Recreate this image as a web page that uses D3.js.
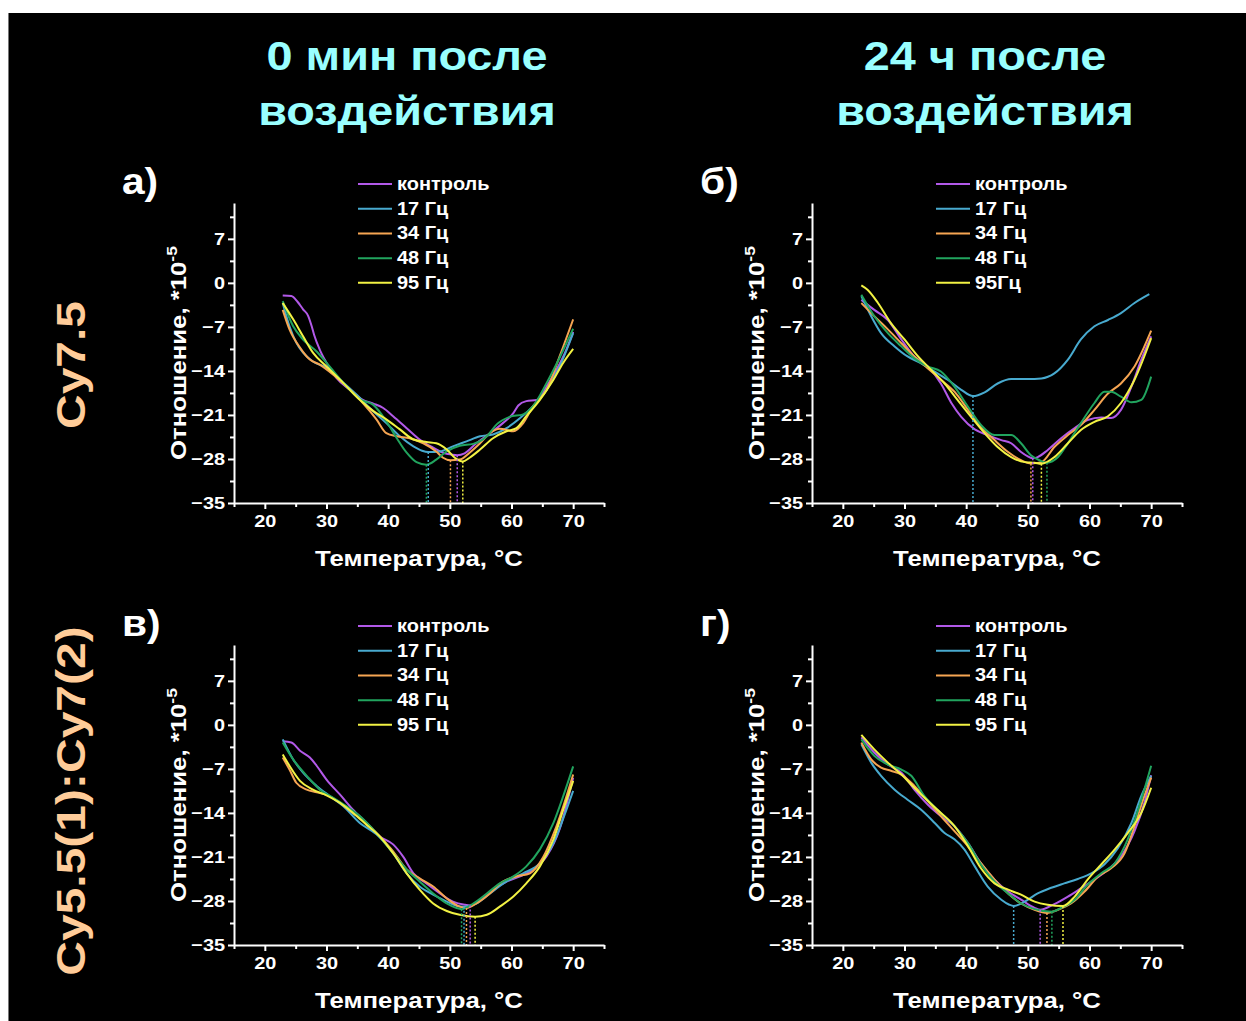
<!DOCTYPE html>
<html>
<head>
<meta charset="utf-8">
<script src="https://cdn.jsdelivr.net/npm/d3@7"></script>
<style>
  html, body { margin: 0; padding: 0; background: #ffffff; }
  svg { display: block; }
</style>
</head>
<body>
<svg id="fig" width="1246" height="1021"></svg>
<script>
// ---- shared categories / ticks ----
const seriesNames   = ["контроль", "17 Гц", "34 Гц", "48 Гц", "95 Гц"];
const seriesNamesB  = ["контроль", "17 Гц", "34 Гц", "48 Гц", "95Гц"];
const seriesColors  = ["#b259e8", "#48aacf", "#f6a552", "#21a45e", "#f2f243"];
const xTicks = [20, 30, 40, 50, 60, 70];
const xMinorTicks = [15, 25, 35, 45, 55, 65, 75];
const yTicks = [-35, -28, -21, -14, -7, 0, 7];
const yMinorTicks = [-31.5, -24.5, -17.5, -10.5, -3.5, 3.5, 10.5];
const panelLetters = ["а)", "б)", "в)", "г)"];
const columnTitles = [["0 мин после", "воздействия"], ["24 ч после", "воздействия"]];
const rowTitles = ["Cy7.5", "Cy5.5(1):Cy7(2)"];

// ---- panel а: Cy7.5, 0 min  [temperature °C, ratio ×10^-5] ----
const a_control = [[22.9,-2.0],[24.3,-2.1],[25.3,-3.0],[26.2,-4.2],[27.0,-5.2],[27.6,-6.9],[28.0,-8.3],[28.9,-10.6],[30.0,-12.7],[31.6,-15.1],[33.8,-17.0],[35.9,-18.6],[37.6,-19.2],[39.2,-19.9],[40.8,-21.2],[43.0,-23.1],[45.1,-24.9],[47.3,-26.2],[48.9,-27.0],[50.3,-27.3],[51.2,-27.4],[52.4,-27.1],[54.3,-25.5],[56.5,-23.9],[58.6,-22.3],[60.3,-20.7],[61.1,-19.5],[62.4,-18.8],[64.1,-18.6],[65.7,-16.4],[67.3,-13.8],[68.9,-10.6],[70.0,-7.8]];
const a_17 = [[22.9,-3.2],[24.0,-6.9],[25.1,-9.5],[26.2,-11.1],[27.8,-12.5],[30.0,-13.5],[32.2,-15.4],[34.9,-17.8],[37.0,-19.9],[39.7,-22.3],[41.9,-24.4],[44.1,-26.0],[45.5,-26.7],[46.5,-26.9],[48.4,-26.8],[50.5,-26.0],[52.7,-25.2],[54.9,-24.4],[57.0,-24.1],[59.2,-23.1],[61.4,-21.5],[63.5,-19.6],[65.7,-17.0],[67.8,-13.3],[70.0,-8.0]];
const a_34 = [[22.9,-4.3],[24.0,-7.4],[25.7,-10.3],[27.3,-12.2],[28.9,-13.0],[31.1,-14.6],[33.8,-17.0],[35.9,-19.1],[38.1,-21.7],[39.7,-23.9],[41.4,-24.4],[43.5,-24.7],[45.7,-25.5],[47.8,-26.8],[48.9,-27.8],[50.1,-28.2],[51.6,-28.1],[53.2,-27.0],[54.9,-25.5],[56.5,-23.9],[58.1,-23.2],[60.3,-23.6],[61.9,-22.3],[63.5,-19.6],[65.7,-17.0],[67.8,-11.7],[70.0,-5.8]];
const a_48 = [[22.9,-2.9],[24.6,-6.9],[26.2,-9.0],[28.4,-10.9],[30.5,-13.3],[33.2,-16.4],[35.4,-18.5],[37.6,-19.4],[39.7,-22.0],[41.4,-24.7],[43.0,-27.0],[44.6,-28.5],[46.2,-28.9],[47.8,-28.1],[49.5,-26.8],[51.6,-25.9],[53.8,-25.6],[56.0,-24.4],[57.6,-22.5],[59.7,-21.3],[61.9,-20.9],[63.5,-19.6],[65.7,-15.9],[67.8,-11.9],[70.0,-7.3]];
const a_95 = [[22.9,-3.2],[24.6,-5.8],[26.2,-8.5],[27.8,-11.1],[30.0,-13.3],[32.7,-15.9],[35.4,-18.6],[37.6,-20.4],[39.7,-21.7],[41.9,-23.3],[44.1,-24.9],[46.2,-25.3],[47.8,-25.5],[49.5,-26.5],[50.8,-27.8],[52.1,-28.4],[53.2,-27.8],[54.9,-26.5],[57.0,-24.7],[59.2,-23.6],[60.8,-23.1],[62.4,-21.2],[64.6,-18.6],[66.8,-15.4],[68.4,-12.7],[70.0,-10.5]];

// ---- panel б: Cy7.5, 24 h ----
const b_control = [[23.0,-2.7],[25.1,-4.3],[27.3,-5.9],[29.5,-9.0],[31.6,-11.7],[33.8,-13.3],[35.9,-16.0],[37.6,-19.1],[39.2,-21.3],[41.4,-23.3],[43.5,-24.2],[45.7,-25.0],[47.3,-25.5],[48.9,-26.9],[50.0,-27.6],[50.8,-27.9],[51.6,-27.7],[53.2,-26.6],[55.4,-24.7],[57.6,-23.1],[59.7,-21.8],[61.9,-21.4],[63.5,-21.5],[65.1,-20.2],[66.8,-16.5],[68.4,-12.2],[70.0,-8.5]];
const b_17 = [[23.0,-2.1],[24.6,-5.3],[26.2,-8.0],[28.4,-10.1],[30.5,-11.7],[32.7,-12.8],[34.9,-14.1],[37.0,-15.4],[39.2,-17.0],[41.1,-18.0],[43.0,-17.4],[45.1,-16.0],[47.3,-15.3],[50.0,-15.3],[52.2,-15.2],[54.3,-14.4],[56.5,-12.2],[58.6,-9.0],[60.8,-6.9],[63.0,-5.9],[65.1,-4.8],[67.3,-3.2],[69.7,-1.8]];
const b_34 = [[23.0,-3.2],[25.1,-5.3],[27.3,-7.4],[29.5,-9.6],[31.6,-11.7],[33.8,-13.6],[35.9,-15.4],[38.1,-17.3],[40.3,-20.2],[42.4,-22.9],[44.6,-25.0],[46.8,-26.9],[48.9,-28.2],[50.5,-28.7],[52.2,-28.5],[54.3,-26.1],[56.5,-24.2],[58.6,-22.6],[60.8,-20.2],[63.0,-17.6],[65.1,-16.0],[67.3,-13.3],[70.0,-7.6]];
const b_48 = [[23.0,-1.9],[25.1,-5.3],[27.3,-8.0],[29.5,-10.1],[31.6,-12.0],[33.8,-13.3],[35.9,-14.1],[38.1,-16.5],[40.3,-19.7],[42.4,-22.6],[44.6,-24.2],[47.3,-24.2],[48.9,-25.5],[50.5,-27.4],[51.9,-28.2],[53.1,-28.6],[54.9,-27.7],[56.5,-25.5],[58.6,-22.3],[60.8,-19.1],[62.4,-17.3],[63.5,-17.3],[65.1,-18.1],[66.8,-19.0],[68.4,-18.6],[70.0,-14.9]];
const b_95 = [[23.0,-0.4],[24.0,-1.1],[25.7,-3.2],[27.8,-6.4],[30.0,-9.0],[32.2,-11.7],[34.3,-13.8],[36.5,-16.0],[38.6,-18.6],[40.8,-21.3],[43.0,-23.9],[45.1,-26.1],[47.3,-27.7],[49.5,-28.5],[51.1,-28.6],[52.2,-28.75],[54.3,-27.7],[56.5,-25.5],[58.6,-23.4],[60.8,-22.1],[63.0,-21.2],[65.1,-19.1],[67.3,-15.4],[70.0,-8.8]];

// ---- panel в: Cy5.5(1):Cy7(2), 0 min ----
const c_control = [[22.9,-2.6],[24.3,-2.8],[25.7,-4.1],[27.3,-5.2],[28.4,-6.5],[30.0,-8.7],[32.2,-11.1],[34.3,-13.5],[36.5,-15.6],[38.6,-17.7],[40.8,-19.0],[42.4,-20.9],[44.1,-23.6],[46.2,-25.2],[48.4,-26.8],[50.5,-28.1],[52.4,-28.6],[53.3,-28.7],[54.9,-27.9],[57.0,-26.2],[59.2,-24.9],[61.4,-24.1],[63.5,-23.0],[65.7,-20.9],[67.8,-16.6],[70.0,-8.4]];
const c_17 = [[22.9,-2.3],[24.6,-5.5],[26.2,-7.6],[28.4,-9.7],[30.5,-11.3],[32.7,-12.9],[35.4,-15.6],[38.1,-17.4],[40.8,-20.4],[43.0,-23.6],[45.1,-25.7],[47.3,-27.0],[49.5,-28.1],[51.2,-28.8],[52.3,-28.9],[54.3,-28.4],[56.5,-26.8],[59.2,-24.9],[61.9,-23.6],[64.6,-22.0],[66.8,-18.8],[68.9,-13.5],[70.0,-10.5]];
const c_34 = [[22.9,-5.2],[24.0,-7.1],[25.1,-9.2],[26.8,-10.3],[28.4,-10.7],[30.0,-11.1],[32.2,-12.4],[34.3,-14.0],[36.5,-15.6],[38.6,-17.7],[40.8,-20.1],[43.0,-23.0],[45.1,-24.4],[47.3,-25.7],[49.5,-27.6],[51.6,-28.9],[52.7,-29.1],[54.3,-28.4],[56.5,-26.8],[58.6,-24.9],[60.8,-24.1],[63.0,-23.6],[65.1,-21.1],[67.3,-16.1],[70.0,-7.9]];
const c_48 = [[22.9,-2.8],[24.6,-5.5],[26.8,-8.1],[28.9,-10.3],[31.1,-11.6],[33.2,-12.9],[35.4,-14.5],[38.1,-17.2],[40.8,-20.4],[43.0,-23.0],[45.1,-24.9],[47.3,-26.8],[49.5,-28.4],[51.0,-29.1],[51.9,-29.3],[53.8,-28.4],[56.0,-26.8],[58.1,-25.2],[60.3,-24.1],[62.4,-22.5],[64.6,-19.8],[66.8,-15.6],[68.4,-11.3],[70.0,-6.6]];
const c_95 = [[22.9,-4.7],[24.0,-6.5],[25.7,-8.9],[27.8,-10.3],[30.0,-11.2],[32.2,-12.4],[34.3,-14.0],[36.5,-15.9],[38.6,-17.7],[40.8,-20.4],[43.0,-23.6],[45.1,-26.2],[47.3,-28.4],[49.5,-29.6],[51.6,-30.2],[54.1,-30.5],[56.0,-30.2],[58.1,-28.9],[60.3,-27.3],[62.4,-25.2],[64.6,-22.5],[66.8,-18.2],[68.4,-13.5],[70.0,-8.9]];

// ---- panel г: Cy5.5(1):Cy7(2), 24 h ----
const d_control = [[23.0,-2.0],[25.1,-4.4],[27.3,-6.3],[29.5,-7.6],[31.6,-10.3],[33.8,-12.7],[35.9,-14.5],[38.1,-16.1],[40.3,-18.8],[42.4,-22.0],[44.6,-24.6],[46.8,-26.5],[48.9,-27.8],[51.1,-29.1],[52.0,-29.4],[54.3,-28.5],[56.5,-27.3],[58.6,-26.0],[60.8,-24.6],[63.0,-23.0],[65.1,-20.9],[67.3,-16.9],[68.9,-12.4],[70.0,-8.0]];
const d_17 = [[23.0,-3.1],[24.6,-6.0],[26.2,-8.1],[28.4,-10.3],[30.5,-11.9],[32.7,-13.5],[34.9,-15.6],[36.5,-17.2],[38.1,-18.2],[39.7,-19.8],[41.4,-22.5],[43.5,-25.7],[45.7,-27.8],[47.0,-28.6],[47.7,-28.8],[49.5,-28.1],[51.6,-26.8],[53.8,-25.9],[55.9,-25.2],[58.1,-24.5],[60.3,-23.6],[62.4,-22.2],[64.6,-19.6],[66.8,-15.6],[68.4,-11.3],[70.0,-8.1]];
const d_34 = [[23.0,-2.8],[24.6,-5.5],[26.2,-6.8],[27.8,-7.3],[29.5,-7.9],[31.6,-9.7],[33.8,-12.1],[35.9,-14.5],[38.1,-16.9],[40.3,-19.3],[42.4,-22.0],[44.6,-24.6],[46.8,-26.8],[48.9,-28.4],[51.1,-29.4],[53.1,-29.9],[54.9,-29.4],[57.0,-28.4],[59.2,-26.5],[61.4,-24.1],[63.5,-22.8],[65.7,-20.4],[67.3,-16.1],[68.9,-11.3],[70.0,-8.4]];
const d_48 = [[23.0,-2.3],[25.1,-4.9],[27.3,-6.3],[29.5,-7.1],[31.1,-8.1],[33.2,-11.3],[35.9,-14.0],[38.1,-16.1],[40.3,-18.8],[42.4,-22.2],[44.6,-24.9],[46.8,-26.8],[48.9,-28.4],[51.1,-29.3],[53.9,-29.7],[55.4,-29.1],[57.6,-27.8],[59.7,-25.4],[61.9,-23.6],[64.1,-22.0],[66.2,-18.2],[68.4,-11.9],[70.0,-6.5]];
const d_95 = [[23.0,-1.6],[25.1,-3.9],[27.3,-6.0],[29.5,-7.9],[31.6,-10.0],[33.8,-12.1],[35.9,-14.0],[38.1,-16.1],[40.3,-19.3],[42.4,-22.8],[44.6,-25.2],[46.8,-26.2],[48.9,-27.0],[51.1,-28.1],[53.2,-28.6],[55.7,-28.8],[57.6,-27.3],[59.7,-24.6],[61.9,-22.2],[64.1,-19.8],[66.2,-17.2],[68.4,-14.0],[70.0,-10.0]];

// ---- layout ----
const FONT = "'Liberation Sans', Arial, sans-serif";
const STRETCH = 1.17;          // glyphs are drawn a little wider than the font's natural width
const colX = [[234, 604], [812, 1182]];
const rowY = [[503, 203], [945, 645]];

const panels = [
  { letter: panelLetters[0], col: 0, row: 0, names: seriesNames,  series: [a_control, a_17, a_34, a_48, a_95] },
  { letter: panelLetters[1], col: 1, row: 0, names: seriesNamesB, series: [b_control, b_17, b_34, b_48, b_95] },
  { letter: panelLetters[2], col: 0, row: 1, names: seriesNames,  series: [c_control, c_17, c_34, c_48, c_95] },
  { letter: panelLetters[3], col: 1, row: 1, names: seriesNames,  series: [d_control, d_17, d_34, d_48, d_95] }
];

const svg = d3.select("#fig");

// page frame
svg.append("rect").attr("x", 0).attr("y", 0).attr("width", 1246).attr("height", 1021).attr("fill", "#ffffff");
svg.append("rect").attr("x", 8).attr("y", 13).attr("width", 1238).attr("height", 1008).attr("fill", "#000000");
svg.append("line").attr("x1", 8.5).attr("x2", 8.5).attr("y1", 13).attr("y2", 1021)
   .attr("stroke", "#777").attr("stroke-width", 1);

// column headings
columnTitles.forEach((lines, i) => {
  const cx = i === 0 ? 407 : 985;
  lines.forEach((t, j) => {
    svg.append("text")
      .attr("transform", `translate(${cx},${70 + j * 55}) scale(${STRETCH},1)`)
      .attr("text-anchor", "middle")
      .attr("font-family", FONT).attr("font-weight", "bold").attr("font-size", 40)
      .attr("fill", "#99ffff")
      .text(t);
  });
});

// row headings (vertical)
rowTitles.forEach((t, i) => {
  const cy = i === 0 ? 365 : 801;
  svg.append("text")
    .attr("transform", `translate(85,${cy}) rotate(-90) scale(1.2,1)`)
    .attr("text-anchor", "middle")
    .attr("font-family", FONT).attr("font-weight", "bold").attr("font-size", 40)
    .attr("fill", "#ffcc99")
    .text(t);
});

const line = d3.line().curve(d3.curveMonotoneX);

panels.forEach(p => {
  const x = d3.scaleLinear().domain([15, 75]).range(colX[p.col]);
  const y = d3.scaleLinear().domain([-35, 12.7]).range(rowY[p.row]);
  const g = svg.append("g");
  line.x(d => x(d[0])).y(d => y(d[1]));

  // panel letter
  g.append("text")
    .attr("transform", `translate(${x(15) - 112},${y(12.7) - 9}) scale(1.1,1)`)
    .attr("font-family", FONT).attr("font-weight", "bold").attr("font-size", 37)
    .attr("fill", "#ffffff")
    .text(p.letter);

  // curves
  p.series.forEach((s, i) => {
    g.append("path").datum(s)
      .attr("d", line)
      .attr("fill", "none")
      .attr("stroke", seriesColors[i])
      .attr("stroke-width", 2)
      .attr("stroke-linejoin", "round");
  });

  // dotted drop lines at each curve's minimum
  p.series.forEach((s, i) => {
    const m = d3.least(s, d => d[1]);
    g.append("line")
      .attr("x1", x(m[0])).attr("x2", x(m[0]))
      .attr("y1", y(m[1])).attr("y2", y(-35))
      .attr("stroke", seriesColors[i])
      .attr("stroke-width", 1.5)
      .attr("stroke-dasharray", "2,2");
  });

  // axes
  const xAxis = g.append("g").attr("transform", `translate(0,${y(-35)})`)
    .call(d3.axisBottom(x).tickValues(xTicks).tickSize(6).tickSizeOuter(0).tickPadding(6));
  g.append("g").attr("transform", `translate(0,${y(-35)})`)
    .call(d3.axisBottom(x).tickValues(xMinorTicks).tickSize(4).tickFormat(""))
    .select(".domain").remove();
  const yAxis = g.append("g").attr("transform", `translate(${x(15)},0)`)
    .call(d3.axisLeft(y).tickValues(yTicks).tickSize(6).tickSizeOuter(0).tickPadding(4));
  g.append("g").attr("transform", `translate(${x(15)},0)`)
    .call(d3.axisLeft(y).tickValues(yMinorTicks).tickSize(4).tickFormat(""))
    .select(".domain").remove();

  g.selectAll(".domain").attr("stroke", "#ffffff").attr("stroke-width", 2);
  g.selectAll(".tick line").attr("stroke", "#ffffff").attr("stroke-width", 2);
  [xAxis, yAxis].forEach(ax => ax.selectAll("text")
    .attr("fill", "#ffffff").attr("font-family", FONT)
    .attr("font-weight", "bold").attr("font-size", 17));
  xAxis.selectAll("text").attr("transform", `scale(${STRETCH},1)`).attr("dy", "0.71em").attr("y", 12);
  yAxis.selectAll("text").attr("transform", `scale(${STRETCH},1)`).attr("x", -9 / STRETCH);

  // axis titles
  g.append("text")
    .attr("transform", `translate(${(x(15) + x(75)) / 2},${y(-35) + 63}) scale(${STRETCH},1)`)
    .attr("text-anchor", "middle")
    .attr("font-family", FONT).attr("font-weight", "bold").attr("font-size", 22)
    .attr("fill", "#ffffff")
    .text("Температура, °С");

  const yt = g.append("text")
    .attr("transform", `translate(${x(15) - 48},${(y(-35) + y(12.7)) / 2}) rotate(-90) scale(${STRETCH},1)`)
    .attr("text-anchor", "middle")
    .attr("font-family", FONT).attr("font-weight", "bold").attr("font-size", 22)
    .attr("fill", "#ffffff");
  yt.append("tspan").text("Отношение, *10");
  yt.append("tspan").attr("dy", -9).attr("font-size", 15).text("-5");

  // legend
  const lg = g.append("g");
  p.names.forEach((n, i) => {
    const cy = y(0) - (4 - i) * 24.7;
    lg.append("line")
      .attr("x1", x(15) + 124).attr("x2", x(15) + 158)
      .attr("y1", cy).attr("y2", cy)
      .attr("stroke", seriesColors[i]).attr("stroke-width", 2);
    lg.append("text")
      .attr("transform", `translate(${x(15) + 163},${cy + 6}) scale(1.05,1)`)
      .attr("font-family", FONT).attr("font-weight", "bold").attr("font-size", 19)
      .attr("fill", "#ffffff")
      .text(n);
  });
});
</script>
</body>
</html>
